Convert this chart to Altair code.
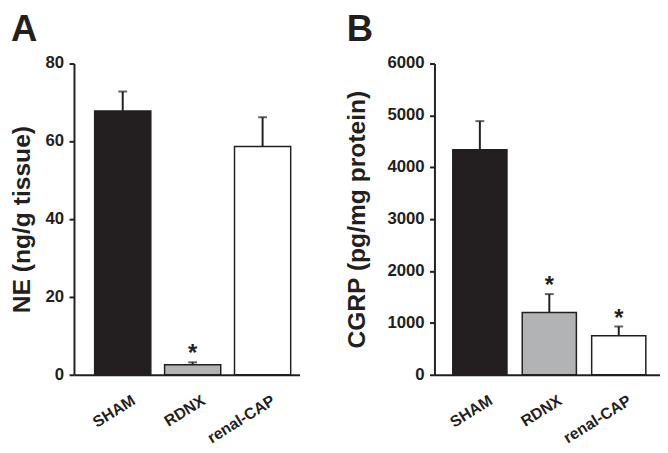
import altair as alt
import pandas as pd

groups = ["SHAM", "RDNX", "renal-CAP"]
fills = ["#231f20", "#b2b3b5", "#ffffff"]

ne_mean = [67.8, 2.6, 58.7]
ne_sem = [5.0, 0.6, 7.5]
ne_sig = ["", "*", ""]

cgrp_mean = [4340, 1200, 750]
cgrp_sem = [550, 355, 180]
cgrp_sig = ["", "*", "*"]

letters = ["A", "B"]
ne_ticks = [0, 20, 40, 60, 80]
cgrp_ticks = [0, 1000, 2000, 3000, 4000, 5000, 6000]

INK = "#231f20"
FONT = "Liberation Sans"
H = 316


def panel(mean, sem, sig, letter, ytitle, ticks, title_pad, pad_inner, pad_outer, align, letter_x):
    df = pd.DataFrame({
        "group": groups,
        "mean": mean,
        "top": [m + s for m, s in zip(mean, sem)],
        "sig": sig,
        "fill": fills,
    })
    tdf = pd.DataFrame({"v": ticks, "s": [str(t) for t in ticks]})
    xaxis = alt.Axis(title=None, labels=False, ticks=False, domainColor=INK, domainWidth=2)
    xscale = alt.Scale(paddingInner=pad_inner, paddingOuter=pad_outer, align=align)
    yscale = alt.Scale(domain=[ticks[0], ticks[-1]], nice=False)
    yaxis = alt.Axis(values=ticks, labels=False, grid=False, tickSize=5, tickWidth=2,
                     tickColor=INK, domainColor=INK, domainWidth=2,
                     title=ytitle, titlePadding=title_pad, titleFontSize=25,
                     titleFont=FONT, titleFontWeight="bold", titleColor=INK)

    def X():
        return alt.X("group:N", sort=groups, title=None, scale=xscale, axis=xaxis)

    def Y(field):
        return alt.Y(field, scale=yscale, axis=yaxis, title=ytitle)

    base = alt.Chart(df)
    bars = base.mark_bar(stroke=INK, strokeWidth=1.5).encode(
        x=X(), y=Y("mean:Q"), fill=alt.Fill("fill:N", scale=None))
    err = base.mark_rule(color=INK, strokeWidth=2).encode(
        x=X(), y=Y("mean:Q"), y2="top:Q")
    cap = base.mark_tick(color=INK, size=9, thickness=2).encode(
        x=X(), y=Y("top:Q"))
    stars = base.mark_text(font=FONT, fontWeight="bold", fontSize=24, color=INK,
                           baseline="alphabetic", dy=-1).encode(
        x=X(), y=Y("top:Q"), text="sig:N")
    xlabels = base.mark_text(font=FONT, fontWeight="bold", fontSize=16, color=INK,
                             angle=328, align="right", baseline="top", xOffset=7).encode(
        x=X(), y=alt.value(H + 18), text="group:N")
    ylabels = alt.Chart(tdf).mark_text(font=FONT, fontWeight="bold", fontSize=17, color=INK,
                                       align="right", baseline="middle").encode(
        y=Y("v:Q"), x=alt.value(-10), text="s:N")
    lab = alt.Chart(pd.DataFrame({"t": [letter]})).mark_text(
        font=FONT, fontWeight="bold", fontSize=37, color=INK,
        align="left", baseline="alphabetic").encode(
        text="t:N", x=alt.value(letter_x), y=alt.value(-23))
    return alt.layer(bars, err, cap, stars, xlabels, ylabels, lab).properties(width=229, height=H)


pa = panel(ne_mean, ne_sem, ne_sig, letters[0], "NE (ng/g tissue)", ne_ticks,
           34, 0.197, 0.211, 0.7, -64)
pb = panel(cgrp_mean, cgrp_sem, cgrp_sig, letters[1], "CGRP (pg/mg protein)", cgrp_ticks,
           60, 0.22, 0.234, 0.564, -89)

chart = (
    alt.hconcat(pa, pb, spacing=46)
    .properties(padding={"left": 2, "top": 0, "right": 0, "bottom": 0})
    .configure(font=FONT)
    .configure_view(stroke=None)
    .configure_axis(titleFont=FONT, titleFontWeight="bold", titleColor=INK, titleFontSize=25,
                    domainColor=INK, tickColor=INK, domainWidth=2, tickWidth=2, grid=False)
)

chart.save("out.html", embed_options={"renderer": "svg", "actions": False})
